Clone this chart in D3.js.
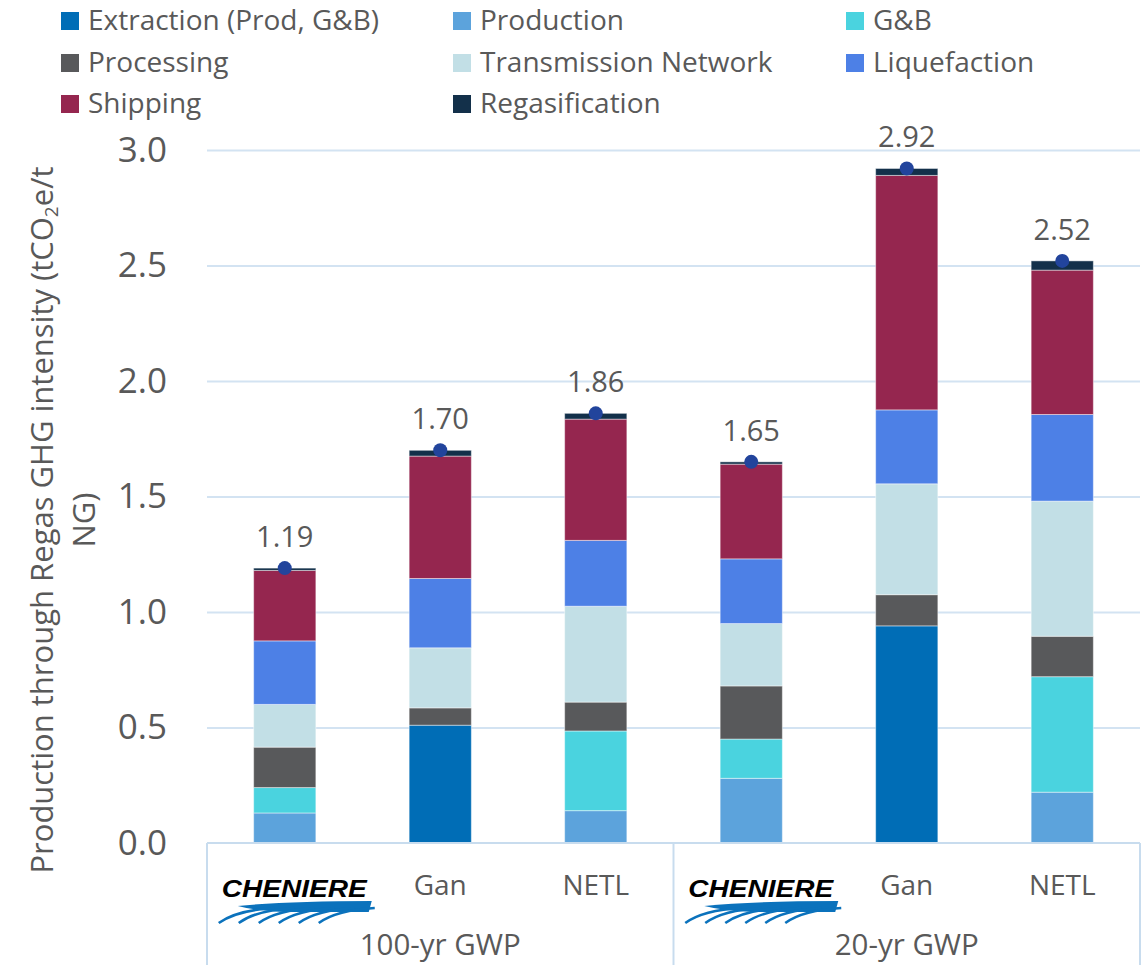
<!DOCTYPE html>
<html>
<head>
<meta charset="utf-8">
<script src="https://cdn.jsdelivr.net/npm/d3@7/dist/d3.min.js"></script>
<style>
  html, body { margin: 0; padding: 0; background: #fff; }
  svg { display: block; font-family: "Open Sans", "Noto Sans", sans-serif; }
</style>
</head>
<body>
<svg id="chart" width="1144" height="965"></svg>
<script>
// Life-cycle GHG intensity, production through regasification (tCO2e/t NG)
const categories = ["Cheniere", "Gan", "NETL", "Cheniere", "Gan", "NETL"];
const groups = ["100-yr GWP", "20-yr GWP"];
const groupOf = [0, 0, 0, 1, 1, 1];

const seriesNames = ["Extraction (Prod, G&B)", "Production", "G&B", "Processing",
  "Transmission Network", "Liquefaction", "Shipping", "Regasification"];
const seriesColors = ["#006DB6", "#5CA3DC", "#4AD3DF", "#58595B",
  "#C2DFE6", "#4D80E6", "#95264F", "#13304A"];

const extraction   = [0,     0.51,  0,     0,    0.94,  0];
const production   = [0.13,  0,     0.14,  0.28, 0,     0.22];
const gAndB        = [0.11,  0,     0.345, 0.17, 0,     0.50];
const processing   = [0.175, 0.075, 0.125, 0.23, 0.135, 0.175];
const transmission = [0.185, 0.26,  0.415, 0.27, 0.48,  0.585];
const liquefaction = [0.275, 0.30,  0.285, 0.28, 0.32,  0.375];
const shipping     = [0.305, 0.53,  0.525, 0.41, 1.015, 0.625];
const regas        = [0.01,  0.025, 0.025, 0.01, 0.03,  0.04];
const totals       = [1.19,  1.70,  1.86,  1.65, 2.92,  2.52];

const yTicks = [0, 0.5, 1.0, 1.5, 2.0, 2.5, 3.0];

const seriesValues = [extraction, production, gAndB, processing,
  transmission, liquefaction, shipping, regas];

// Table rows for d3.stack
const rows = categories.map((c, i) => {
  const r = { idx: i, category: c };
  seriesNames.forEach((s, k) => { r[s] = seriesValues[k][i]; });
  return r;
});

const svg = d3.select("#chart");
const textColor = "#595959";
const gridColor = "#D3E3F2";

const plot = { left: 207, right: 1140, top: 150, bottom: 843 };

const x = d3.scaleBand()
  .domain(d3.range(categories.length))
  .range([plot.left, plot.right])
  .paddingInner(0.6)
  .paddingOuter(0.3);

const y = d3.scaleLinear().domain([0, 3]).range([plot.bottom, plot.top]);

// Horizontal gridlines
svg.append("g")
  .attr("transform", `translate(${plot.left},0)`)
  .call(d3.axisLeft(y).tickValues(yTicks.slice(1)).tickSize(-(plot.right - plot.left)).tickFormat(""))
  .call(g => g.select(".domain").remove())
  .call(g => g.selectAll("line").attr("stroke", gridColor).attr("stroke-width", 2));

// Y tick labels
svg.append("g")
  .attr("transform", `translate(${plot.left},0)`)
  .call(d3.axisLeft(y).tickValues(yTicks).tickSize(0).tickPadding(40).tickFormat(d3.format(".1f")))
  .call(g => g.select(".domain").remove())
  .call(g => g.selectAll("text")
    .attr("fill", textColor)
    .style("font-family", "'Open Sans', sans-serif")
    .style("font-size", "35px"));

// Y axis title (two lines)
const yTitle = svg.append("text")
  .attr("transform", "rotate(-90)")
  .attr("text-anchor", "middle")
  .attr("fill", textColor)
  .style("font-size", "31px");
const line1 = yTitle.append("tspan").attr("x", -520).attr("y", 53);
line1.append("tspan").text("Production through Regas GHG intensity (tCO");
line1.append("tspan").attr("dy", 5).style("font-size", "19px").text("2");
line1.append("tspan").attr("dy", -5).text("e/t");
yTitle.append("tspan").attr("x", -520).attr("y", 95).text("NG)");

// Stacked bars
const stack = d3.stack().keys(seriesNames);
const layers = stack(rows);

svg.append("g").selectAll("g")
  .data(layers)
  .join("g")
  .attr("fill", (d, i) => seriesColors[i])
  .selectAll("rect")
  .data(d => d.filter(p => p[1] - p[0] > 0))
  .join("rect")
  .attr("x", d => x(d.data.idx))
  .attr("width", x.bandwidth())
  .attr("y", d => y(d[1]))
  .attr("height", d => y(d[0]) - y(d[1]))
  .attr("stroke", "rgba(255,255,255,0.45)")
  .attr("stroke-width", 1);

// Total markers and labels
const totalsG = svg.append("g");
totalsG.selectAll("circle")
  .data(totals)
  .join("circle")
  .attr("cx", (d, i) => x(i) + x.bandwidth() / 2)
  .attr("cy", d => y(d))
  .attr("r", 7)
  .attr("fill", "#22449C");
totalsG.selectAll("text")
  .data(totals)
  .join("text")
  .attr("x", (d, i) => x(i) + x.bandwidth() / 2)
  .attr("y", d => y(d) - 21)
  .attr("text-anchor", "middle")
  .attr("fill", textColor)
  .style("font-size", "29px")
  .text(d => d.toFixed(2));

// Category axis frame
const axisG = svg.append("g").attr("stroke", "#C8DCEE").attr("stroke-width", 2).attr("fill", "none");
axisG.append("line")
  .attr("x1", plot.left).attr("x2", plot.right)
  .attr("y1", plot.bottom).attr("y2", plot.bottom);
const groupEdges = [plot.left, (x(2) + x(3) + x.bandwidth()) / 2, plot.right];
groupEdges.forEach(gx => {
  axisG.append("line")
    .attr("x1", gx).attr("x2", gx)
    .attr("y1", plot.bottom).attr("y2", 965);
});

// Category labels (logo for Cheniere)
function drawLogo(g, cx) {
  const left = cx - 67;
  const blue = "#0B72BC";
  g.append("text")
    .attr("x", left + 4)
    .attr("y", 897)
    .attr("textLength", 145)
    .attr("lengthAdjust", "spacingAndGlyphs")
    .style("font-family", "'Liberation Sans', Arial, sans-serif")
    .style("font-weight", "bold")
    .style("font-style", "italic")
    .style("font-size", "23px")
    .attr("fill", "#000")
    .text("CHENIERE");
  // tapered blue band under the name
  g.append("path")
    .attr("d", `M${left + 20},906 Q${left + 70},901 ${left + 154},901 L${left + 151},912 L${left + 70},912 Q${left + 40},911 ${left + 20},906 Z`)
    .attr("fill", blue);
  // swoosh lines rising into the band
  for (let k = 0; k < 6; k++) {
    const x0 = left + 1 + k * 20;
    g.append("path")
      .attr("d", `M${x0},923 Q${x0 + 18},910 ${x0 + 56},908`)
      .attr("fill", "none")
      .attr("stroke", blue)
      .attr("stroke-width", 2.6);
  }
}

const labelsG = svg.append("g");
categories.forEach((c, i) => {
  const cx = x(i) + x.bandwidth() / 2;
  if (c === "Cheniere") {
    drawLogo(labelsG, cx);
  } else {
    labelsG.append("text")
      .attr("x", cx)
      .attr("y", 895)
      .attr("text-anchor", "middle")
      .attr("fill", textColor)
      .style("font-size", "28px")
      .text(c);
  }
});

groups.forEach((gName, gi) => {
  const idx = d3.range(categories.length).filter(i => groupOf[i] === gi);
  const cx = (x(idx[0]) + x(idx[idx.length - 1]) + x.bandwidth()) / 2;
  labelsG.append("text")
    .attr("x", cx)
    .attr("y", 955)
    .attr("text-anchor", "middle")
    .attr("fill", textColor)
    .style("font-size", "29.5px")
    .text(gName);
});

// Legend: three columns, row-major
const legendCols = [61, 453, 846];
const legendRows = [21, 63, 104];
const legend = svg.append("g");
seriesNames.forEach((s, i) => {
  const col = i % 3, row = Math.floor(i / 3);
  const lx = legendCols[col], ly = legendRows[row];
  legend.append("rect")
    .attr("x", lx).attr("y", ly - 9)
    .attr("width", 18).attr("height", 18)
    .attr("fill", seriesColors[i]);
  legend.append("text")
    .attr("x", lx + 27)
    .attr("y", ly + 9)
    .attr("fill", textColor)
    .style("font-size", "28px")
    .text(s);
});
</script>
</body>
</html>
